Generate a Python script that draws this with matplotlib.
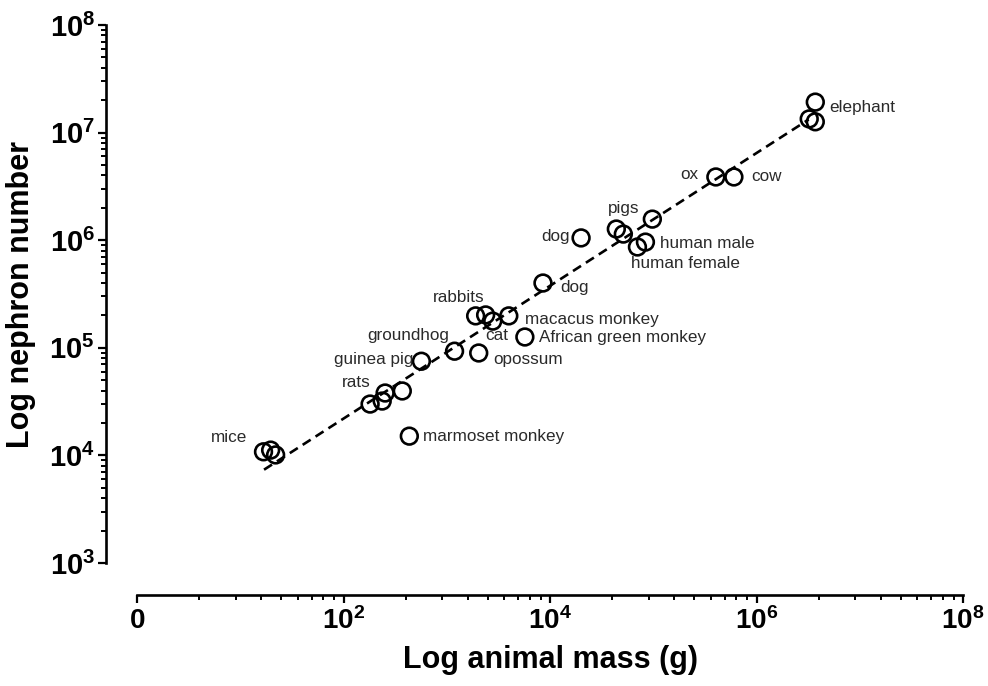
import numpy as np
import matplotlib
matplotlib.use("Agg")
import matplotlib.pyplot as plt
from matplotlib.ticker import FixedLocator, FixedFormatter, LogLocator, NullFormatter

# body mass (g) and nephron number
mass_g = [16.8, 19.7, 22, 181, 237, 253, 371, 568, 1190, 2040, 1905, 2380, 2790,
          3990, 5710, 434, 8550, 2.0e4, 4.39e4, 5.13e4, 9.8e4, 8.4e4, 7.03e4,
          4.04e5, 6.04e5, 3.71e6, 3.24e6, 3.71e6]
nephrons = [1.08e4, 1.12e4, 1.01e4, 3.0e4, 3.2e4, 3.8e4, 3.97e4, 7.5e4, 9.3e4,
            8.95e4, 1.98e5, 2.02e5, 1.77e5, 1.98e5, 1.26e5, 1.51e4, 4.0e5, 1.05e6,
            1.27e6, 1.14e6, 1.57e6, 9.6e5, 8.65e5, 3.87e6, 3.87e6, 1.92e7,
            1.34e7, 1.26e7]

# regression line: log10(N) = intercept + slope * log10(M)
fit_slope = 0.617
fit_intercept = 3.108
fit_mass = [17, 3.2e6]

# label text, point index, offset in pixels, alignment
labels = [
    ("mice", 0, -16, 14, "right"),
    ("rats", 3, 1, 22, "right"),
    ("guinea pig", 7, -8, 2, "right"),
    ("groundhog", 8, -5, 16, "right"),
    ("opossum", 9, 15, -7, "left"),
    ("rabbits", 11, -1, 17, "right"),
    ("cat", 12, -8, -14, "left"),
    ("macacus monkey", 13, 16, -4, "left"),
    ("African green monkey", 14, 14, 0, "left"),
    ("marmoset monkey", 15, 14, 0, "left"),
    ("dog", 16, 17, -4, "left"),
    ("dog", 17, -11, 1, "right"),
    ("pigs", 18, -8, 21, "left"),
    ("human male", 21, 15, -1, "left"),
    ("human female", 22, -6, -17, "left"),
    ("ox", 23, -17, 2, "right"),
    ("cow", 24, 17, 0, "left"),
    ("elephant", 25, 14, -5, "left"),
]

x_major = [1, 1e2, 1e4, 1e6, 1e8]
x_major_labels = [r"$0$", r"$10^{2}$", r"$10^{4}$", r"$10^{6}$", r"$10^{8}$"]
y_major = [1e3, 1e4, 1e5, 1e6, 1e7, 1e8]
y_major_labels = [r"$10^{%d}$" % k for k in range(3, 9)]

plt.rcParams["font.family"] = ["Liberation Sans", "DejaVu Sans"]
plt.rcParams["mathtext.fontset"] = "custom"
plt.rcParams["mathtext.rm"] = "Liberation Sans:bold"
plt.rcParams["mathtext.it"] = "Liberation Sans:bold"
plt.rcParams["mathtext.bf"] = "Liberation Sans:bold"

fig = plt.figure(figsize=(9.88, 6.86), dpi=100)
ax = fig.add_axes([137 / 988, 1 - 563 / 686, 826 / 988, 538 / 686])

ax.set_xscale("log")
ax.set_yscale("log")
ax.set_xlim(1, 1e8)
ax.set_ylim(1e3, 1e8)

fx = np.array(fit_mass)
fy = 10 ** (fit_intercept + fit_slope * np.log10(fx))
ax.plot(fx, fy, color="black", lw=1.9, dashes=(3.6, 2.2), zorder=2)

ax.scatter(mass_g, nephrons, s=145, facecolors="none", edgecolors="black",
           linewidths=1.9, zorder=3, clip_on=False)

for text, i, dx, dy, ha in labels:
    ax.annotate(text, xy=(mass_g[i], nephrons[i]), xytext=(dx, dy),
                textcoords="offset pixels", ha=ha, va="center",
                fontsize=12.3, color="#2a2a2a")

# prism-like offset axes
for side in ["top", "right"]:
    ax.spines[side].set_visible(False)
ax.spines["left"].set_position(("outward", 31 * 0.72))
ax.spines["bottom"].set_position(("outward", 32 * 0.72))
for side in ["left", "bottom"]:
    ax.spines[side].set_linewidth(1.9)

ax.xaxis.set_major_locator(FixedLocator(x_major))
ax.xaxis.set_major_formatter(FixedFormatter(x_major_labels))
# minor ticks spaced like a decade across each two-decade step
x_minor = [k ** 2 * 100 ** n for n in range(4) for k in range(2, 10)]
ax.xaxis.set_minor_locator(FixedLocator(x_minor))
ax.xaxis.set_minor_formatter(NullFormatter())

ax.yaxis.set_major_locator(FixedLocator(y_major))
ax.yaxis.set_major_formatter(FixedFormatter(y_major_labels))
ax.yaxis.set_minor_locator(LogLocator(base=10, subs=range(2, 10)))
ax.yaxis.set_minor_formatter(NullFormatter())

ax.tick_params(which="major", direction="out", length=6, width=1.6, pad=3)
ax.tick_params(axis="x", which="major", labelsize=20)
ax.tick_params(axis="y", which="major", labelsize=21, pad=2)
ax.tick_params(which="minor", direction="out", length=3.6, width=1.4)

ax.set_xlabel("Log animal mass (g)", fontsize=22, fontweight="bold")
ax.set_ylabel("Log nephron number", fontsize=22, fontweight="bold")
ax.xaxis.set_label_coords(0.5, -0.152)
ax.yaxis.set_label_coords(-0.122, 0.5)

fig.savefig("out.png", dpi=100)
